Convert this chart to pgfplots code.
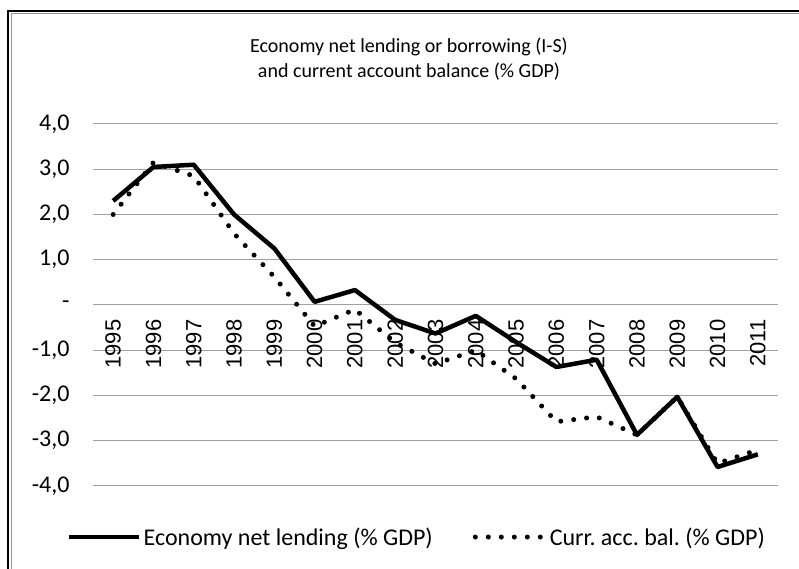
\documentclass[border=0pt]{standalone}
\usepackage{fontspec}
\setmainfont{Carlito}
\newfontfamily\xfont{Liberation Sans}
\usepackage{pgfplots}
\pgfplotsset{compat=1.18}

\definecolor{gridgray}{RGB}{160,160,160}
\definecolor{framegray}{RGB}{150,150,150}

\pgfplotstableread{
yr  lend   cab
0   2.30   2.00
1   3.05   3.15
2   3.10   2.85
3   2.00   1.58
4   1.25   0.62
5   0.07  -0.47
6   0.33  -0.10
7  -0.33  -0.83
8  -0.63  -1.30
9  -0.24  -1.00
10 -0.82  -1.63
11 -1.37  -2.58
12 -1.21  -2.47
13 -2.87  -2.87
14 -2.03  -2.03
15 -3.58  -3.50
16 -3.30  -3.20
}\gdp

\begin{document}
\frenchspacing
\begin{tikzpicture}[x=1pt,y=1pt]
\useasboundingbox (0,0) rectangle (799,569);
% chart frame, only top and left edges are inside the crop
\draw[framegray, line width=1.5pt] (11.5,0) -- (11.5,555.5) -- (799,555.5);
\draw[black, line width=2pt] (8,0) -- (8,557.5) -- (799,557.5);

\node[align=center, font=\fontsize{20}{25}\selectfont] at (409,509.5)
  {Economy net lending or borrowing (I-S)\\and current account balance (\% GDP)};

\begin{axis}[
    at={(93pt,83pt)}, anchor=south west,
    width=685pt, height=362pt, scale only axis,
    xmin=-0.5, xmax=16.5, ymin=-4, ymax=4,
    axis x line=middle, axis y line=left,
    axis line style={draw=none},
    major tick length=0pt,
    xtick={0,...,16},
    xticklabels={1995,1996,1997,1998,1999,2000,2001,2002,2003,2004,2005,2006,2007,2008,2009,2010,2011},
    xticklabel style={rotate=90, anchor=east, xshift=-11pt, font=\xfont\fontsize{22}{24}\selectfont},
    ytick={-4,...,4},
    yticklabels={{-4,0},{-3,0},{-2,0},{-1,0},{-},{1,0},{2,0},{3,0},{4,0}},
    yticklabel style={font=\fontsize{24}{26}\selectfont, xshift=-20pt},
    ymajorgrids,
    grid style={gridgray, line width=1pt},
    legend columns=2,
    legend style={draw=none, fill=none, at={(0.473,-0.141)}, anchor=center,
        font=\fontsize{24}{26}\selectfont, column sep=0pt},
    legend image code/.code={\draw[#1] (0pt,0pt) -- (70pt,0pt);},
    /tikz/every even column/.append style={column sep=38pt},
]
\addplot[black, line width=4.5pt, line join=round] table[x=yr, y=lend] {\gdp};
\addlegendentry{Economy net lending (\% GDP)}
\addplot[black, line width=5pt, line cap=round, dash pattern=on 0pt off 13pt] table[x=yr, y=cab] {\gdp};
\addlegendentry{Curr. acc. bal. (\% GDP)}
\end{axis}
\end{tikzpicture}
\end{document}
